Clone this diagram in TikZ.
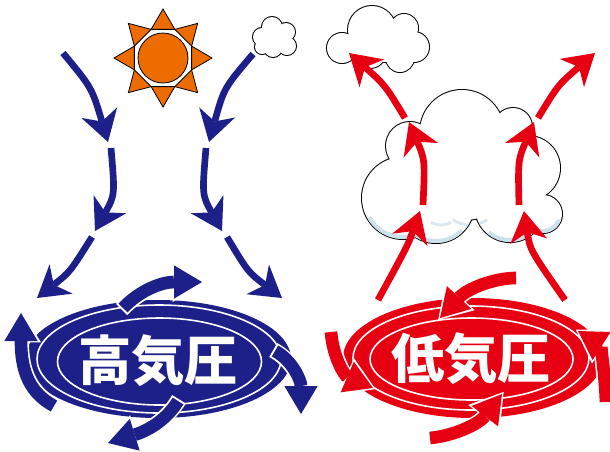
\documentclass[tikz,border=0pt]{standalone}
\usepackage{fontspec}
\usepackage{tikz}
\usetikzlibrary{arrows.meta}
\newfontfamily\jpfont{Noto Sans CJK JP}
\definecolor{hiblue}{RGB}{29,32,136}
\definecolor{lored}{RGB}{230,0,18}
\definecolor{sunorange}{RGB}{237,108,0}
\definecolor{cloudshade}{RGB}{190,218,232}
% puffs of the clouds: x/y/radius
\newcommand\sunpuffs{262/37/9,272/27/10,286/32/9,287/46/9,273/48/9,262/47/7,275/39/10}
\newcommand\toppuffs{342/48/15,372/30/24,404/28/14,414/47/15,400/58/14,370/52/16,386/42/20}
\newcommand\bigpuffs{462/132/42,513/127/19,528/168/32,543/214/19,510/207/35,436/205/38,403/198/41,410/146/24,465/175/45,497/160/26}

\begin{document}
\begin{tikzpicture}[x=0.75pt,y=0.75pt,yscale=-1,
  sink/.style={draw=hiblue,line width=5pt,-{Stealth[length=23pt,width=28pt,inset=7pt,line width=0pt]}},
  rise/.style={draw=lored,line width=5pt,-{Stealth[length=23pt,width=28pt,inset=7pt,line width=0pt]}},
  spin/.style={line width=9.5pt,-{Triangle[length=21pt,width=25pt,line width=0pt]}},
  spinedge/.style={draw=white,line width=12pt,shorten <=-1.5pt,shorten >=-2pt,-{Triangle[length=24pt,width=30pt,line width=0pt]}},
  ringline/.style={draw=white,line width=1.2pt},
  puff/.style={draw=black,line width=1.5pt,fill=white},
  label/.style={text=white,font=\jpfont\bfseries\fontsize{40pt}{40pt}\selectfont}]
\useasboundingbox (0,0) rectangle (610,451);

%% ---------- high pressure ----------
% sun
\coordinate (sun) at (163,58);
\draw[fill=sunorange,line width=0.6pt] (sun) +(0:49)
  \foreach \a in {0,45,...,315}{ -- +(\a+22.5:31) -- +(\a+45:49)} -- cycle;
\draw[fill=white,line width=0.6pt] (sun) +(22.5:31)
  \foreach \a in {67.5,112.5,...,337.5}{ -- +(\a:31)} -- cycle;
\draw[fill=sunorange,line width=0.6pt] (sun) circle[radius=25];

% small cloud
\foreach \cx/\cy/\r in \sunpuffs \draw[puff] (\cx,\cy) circle[radius=\r];
\foreach \cx/\cy/\r in \sunpuffs \fill[white] (\cx,\cy) circle[radius=\r];

% sinking air
\draw[sink] (63,53) .. controls (92,88) .. (108,142);
\draw[sink] (111,148) .. controls (115,195) .. (95,231);
\draw[sink] (92,237) .. controls (70,272) .. (37,298);
\draw[sink] (253,54) .. controls (224,88) .. (209,142);
\draw[sink] (206,148) .. controls (202,195) .. (222,231);
\draw[sink] (227,237) .. controls (248,272) .. (282,298);

% high pressure disc
\coordinate (hicenter) at (158,359);
\fill[hiblue] (hicenter) ellipse[x radius=133,y radius=59];
\draw[ringline] (159,359) ellipse[x radius=122,y radius=54];
\draw[ringline] (159.5,361.5) ellipse[x radius=102,y radius=43.5];

% outflow, clockwise
\foreach \p in {{(123,308) .. controls (140,290) and (162,282) .. (202,282)},
                {(275,351) .. controls (292,360) and (301,380) .. (301,414)},
                {(178,401) .. controls (168,418) and (150,430) .. (108,443)},
                {(54,406) .. controls (30,393) and (21,372) .. (21,313)}}{
  \draw[spinedge] \p;
  \draw[spin,hiblue] \p;
}
\node[label] (hitext) at (158,361) {高気圧};

%% ---------- low pressure ----------
% clouds
\foreach \cx/\cy/\r in \toppuffs \draw[puff] (\cx,\cy) circle[radius=\r];
\foreach \cx/\cy/\r in \toppuffs \fill[white] (\cx,\cy) circle[radius=\r];

\foreach \cx/\cy/\r in \bigpuffs \draw[puff] (\cx,\cy) circle[radius=\r];
\foreach \cx/\cy/\r in \bigpuffs \fill[white] (\cx,\cy) circle[radius=\r];
\begin{scope}
  \clip \foreach \cx/\cy/\r in \bigpuffs {(\cx,\cy) circle[radius=\r]};
  \foreach \cx/\cy/\r/\s/\e in {403/198/41/60/150,436/205/38/45/135,510/207/35/45/130,543/214/19/20/110}
    \draw[cloudshade,line width=6pt,opacity=0.8] ([shift={(\s:\r)}]\cx,\cy) arc[start angle=\s,end angle=\e,radius=\r];
  \draw[cloudshade,line width=2pt,opacity=0.6] ([shift={(55:30)}]470,195) arc[start angle=55,end angle=125,radius=30];
  \draw[cloudshade,line width=2pt,opacity=0.6] ([shift={(60:20)}]441,205) arc[start angle=60,end angle=120,radius=20];
\end{scope}

% rising air
\draw[rise] (378,300) .. controls (408,245) .. (420,211);
\draw[rise] (423,205) .. controls (425,160) .. (409,122);
\draw[rise] (405,118) .. controls (385,85) .. (349,53);
\draw[rise] (565,300) .. controls (530,250) .. (524,211);
\draw[rise] (519,205) .. controls (518,160) .. (534,122);
\draw[rise] (538,118) .. controls (558,85) .. (595,53);

% low pressure disc
\coordinate (locenter) at (473,358);
\fill[lored] (locenter) ellipse[x radius=130,y radius=60];
\draw[ringline] (471,358) ellipse[x radius=118,y radius=52];
\draw[ringline] (471.5,359) ellipse[x radius=101.5,y radius=41];

% inflow, counterclockwise
\foreach \p in {{(516,278) .. controls (495,278) and (468,288) .. (440,318)},
                {(331,332) .. controls (333,358) and (345,376) .. (373,388)},
                {(430,438) .. controls (452,436) and (478,425) .. (502,394)},
                {(606,402) .. controls (605,372) and (600,345) .. (578,331)}}{
  \draw[spinedge] \p;
  \draw[spin,lored] \p;
}
\node[label] (lotext) at (471,359) {低気圧};
\end{tikzpicture}
\end{document}
